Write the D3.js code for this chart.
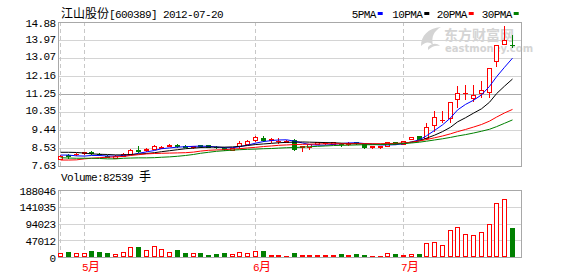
<!DOCTYPE html>
<html><head><meta charset="utf-8">
<script src="https://cdn.jsdelivr.net/npm/d3@7/dist/d3.min.js"></script>
<style>body{margin:0;background:#fff}svg{display:block}</style>
</head><body>
<svg id="c" width="578" height="276"></svg>
<script>
const title = "江山股份[600389] 2012-07-20";
const volumeLabel = "Volume:82539 手";
const maNames = ["5PMA", "10PMA", "20PMA", "30PMA"];
const maColors = ["#0000ff", "#000000", "#ff0000", "#008000"];
const priceTicks = [7.63, 8.53, 9.44, 10.35, 11.25, 12.16, 13.07, 13.97, 14.88];
const volumeTicks = [0, 47012, 94023, 141035, 188046];

const dates = ["2012-04-25","2012-04-26","2012-04-27",
"2012-05-02","2012-05-03","2012-05-04","2012-05-07","2012-05-08","2012-05-09","2012-05-10","2012-05-11","2012-05-14","2012-05-15","2012-05-16","2012-05-17","2012-05-18","2012-05-21","2012-05-22","2012-05-23","2012-05-24","2012-05-25","2012-05-28","2012-05-29","2012-05-30","2012-05-31",
"2012-06-01","2012-06-04","2012-06-05","2012-06-06","2012-06-07","2012-06-08","2012-06-11","2012-06-12","2012-06-13","2012-06-14","2012-06-15","2012-06-18","2012-06-19","2012-06-20","2012-06-21","2012-06-25","2012-06-26","2012-06-27","2012-06-28",
"2012-07-02","2012-07-03","2012-07-04","2012-07-05","2012-07-06","2012-07-09","2012-07-10","2012-07-11","2012-07-12","2012-07-13","2012-07-16","2012-07-17","2012-07-18","2012-07-19","2012-07-20"];

const open = [7.98,8.17,8.21,8.28,8.34,8.25,8.14,8.04,8.13,8.25,
8.44,8.43,8.48,8.56,8.66,8.69,8.65,8.58,8.68,8.67,
8.60,8.54,8.44,8.62,8.75,8.95,9.04,8.93,8.88,8.85,
8.95,8.57,8.60,8.74,8.78,8.76,8.76,8.74,8.84,8.72,
8.58,8.58,8.64,8.83,8.75,8.99,9.14,9.05,9.68,9.93,
10.06,10.99,11.30,11.07,11.29,11.37,12.90,13.76,13.72];
const close = [8.15,8.14,8.23,8.32,8.26,8.22,8.10,8.15,8.25,8.45,
8.37,8.47,8.66,8.59,8.69,8.63,8.61,8.63,8.62,8.61,
8.57,8.49,8.54,8.79,8.90,9.07,8.95,8.97,8.91,8.90,
8.49,8.62,8.74,8.82,8.80,8.83,8.72,8.79,8.78,8.58,
8.62,8.62,8.82,8.75,8.89,9.07,9.00,9.58,10.08,9.97,
10.85,11.31,11.32,11.19,11.44,12.55,13.71,13.97,13.70];
const high = [8.16,8.25,8.27,8.36,8.37,8.28,8.16,8.16,8.27,8.47,
8.66,8.52,8.68,8.64,8.74,8.74,8.68,8.65,8.70,8.69,
8.62,8.58,8.56,8.87,8.93,9.12,9.12,9.05,9.02,8.92,
9.00,8.63,8.75,8.84,8.86,8.85,8.80,8.84,8.86,8.74,
8.63,8.63,8.84,8.85,8.91,9.10,9.16,9.78,10.41,10.41,
10.86,11.66,11.69,11.69,11.91,12.56,13.72,14.68,14.23];
const low = [7.97,8.05,8.18,8.25,8.22,8.19,8.06,8.02,8.12,8.24,
8.32,8.40,8.47,8.52,8.62,8.60,8.58,8.56,8.60,8.59,
8.55,8.46,8.42,8.54,8.73,8.87,8.87,8.85,8.77,8.83,
8.46,8.37,8.50,8.72,8.74,8.74,8.66,8.70,8.76,8.56,
8.55,8.56,8.62,8.73,8.73,8.97,8.98,8.97,9.41,9.86,
9.86,10.59,11.00,10.92,11.09,11.12,12.68,13.75,13.62];
const volume = [12162,13098,12162,12162,15904,13098,10291,9355,14969,29002,
27131,20582,31809,23389,14969,18711,10291,12162,10291,4678,
7484,10291,9355,14969,12162,17775,15904,6549,6549,3742,
10291,6549,6549,6549,4678,4678,7484,4678,7484,4678,
1871,1871,12162,7484,6549,9355,7484,40229,43036,34616,
74844,85135,65489,62682,71102,93555,152495,163722,82539];

const ma5 = [8.18,8.18,8.14,8.13,8.16,8.16,8.13,8.13,8.16,8.18,
8.27,8.34,8.41,8.50,8.54,8.58,8.60,8.62,8.63,8.62,
8.59,8.55,8.55,8.60,8.68,8.78,8.86,8.91,8.94,8.95,
8.88,8.79,8.71,8.68,8.68,8.72,8.76,8.79,8.80,8.76,
8.73,8.69,8.69,8.70,8.75,8.84,8.95,9.15,9.42,9.70,
10.05,10.45,10.73,10.94,11.21,11.64,12.12,12.60,13.06];
const ma10 = [8.32,8.32,8.31,8.28,8.24,8.22,8.21,8.19,8.19,8.21,
8.23,8.26,8.30,8.35,8.40,8.45,8.50,8.53,8.56,8.58,
8.58,8.58,8.59,8.62,8.66,8.71,8.74,8.77,8.80,8.82,
8.83,8.84,8.83,8.82,8.81,8.80,8.78,8.76,8.75,8.74,
8.73,8.73,8.74,8.75,8.78,8.83,8.90,9.03,9.18,9.36,
9.58,9.85,10.06,10.29,10.51,10.84,11.27,11.65,12.01];
const ma20 = [7.93,7.93,7.94,7.99,8.02,8.05,8.07,8.09,8.11,8.16,
8.20,8.24,8.26,8.27,8.28,8.29,8.30,8.33,8.38,8.42,
8.44,8.45,8.48,8.50,8.54,8.57,8.61,8.64,8.67,8.69,
8.71,8.72,8.73,8.74,8.75,8.75,8.75,8.75,8.75,8.75,
8.75,8.75,8.76,8.77,8.79,8.83,8.89,8.96,9.05,9.14,
9.25,9.36,9.47,9.59,9.72,9.89,10.09,10.30,10.48];
const ma30 = [8.05,8.03,8.02,8.02,8.02,8.01,7.99,7.99,8.02,8.03,
8.04,8.04,8.05,8.07,8.09,8.12,8.16,8.21,8.27,8.32,
8.37,8.40,8.43,8.45,8.47,8.48,8.50,8.51,8.53,8.55,
8.56,8.58,8.60,8.62,8.64,8.66,8.67,8.68,8.69,8.70,
8.70,8.71,8.72,8.73,8.76,8.79,8.83,8.88,8.94,9.00,
9.07,9.14,9.21,9.29,9.38,9.48,9.61,9.78,9.95];
const maSeries = [ma5, ma10, ma20, ma30];

const RED = "#ff0000", GREEN = "#008000";
const svg = d3.select("#c");
const L = 58, R = 522, PT = 22, PB = 166, VT = 190, VB = 257;

const x = d3.scaleBand().domain(d3.range(dates.length)).range([56.8, 516.4]).padding(0);
const cx = i => Math.round(x(i) + x.bandwidth() / 2 - 0.5) + 0.5;
const y = d3.scaleLinear().domain([priceTicks[0], priceTicks[priceTicks.length - 1]]).range([PB, PT]);
const yv = d3.scaleLinear().domain([0, volumeTicks[volumeTicks.length - 1]]).range([VB, VT]);

function mixed(g, str, x0, yb, fill) {
  const t = g.append("text").attr("x", x0).attr("y", yb).attr("fill", fill);
  const re = /[\u3000-\u9fff\uff00-\uffef]/;
  let runs = [], cur = "", curC = null;
  for (const ch of str) {
    const c = re.test(ch);
    if (curC === null || c === curC) { cur += ch; curC = c; }
    else { runs.push([cur, curC]); cur = ch; curC = c; }
  }
  if (cur) runs.push([cur, curC]);
  runs.forEach(([s, c]) => {
    const ts = t.append("tspan").text(s);
    if (c) ts.attr("font-family", "'Noto Sans CJK SC'").attr("font-size", 12);
    else ts.attr("font-family", "'Liberation Mono', 'DejaVu Sans Mono', monospace").attr("font-size", 11).style("letter-spacing", "-0.6px");
  });
  return t;
}

// watermark
const wm = svg.append("g").attr("fill", "#d4d4d4");
wm.append("path").attr("d", "M421,46 C421,36 428,28 441,27 C434,31 431,37 433,45 C429,41 425,42 421,46 Z");
wm.append("path").attr("d", "M428,47 C432,43 437,43 440,46 C436,45 432,46 428,50 Z");
wm.append("text").attr("x", 444).attr("y", 40).attr("font-family", "'Noto Sans CJK SC'").attr("font-weight", "bold").attr("font-size", 14).text("东方财富网");
wm.append("text").attr("x", 445).attr("y", 52).attr("font-family", "'DejaVu Sans', sans-serif").attr("font-weight", "bold").attr("font-size", 10).text("eastmoney.com");

// grids
const grid = svg.append("g").attr("shape-rendering", "crispEdges");
priceTicks.forEach((t, k) => {
  const yy = Math.round(y(t)) + 0.5;
  const mid = k === 4;
  grid.append("line").attr("x1", L).attr("x2", R).attr("y1", yy).attr("y2", yy)
    .attr("stroke", mid ? "#a8a8a8" : "#d4d4d4").attr("stroke-width", 1);
});
volumeTicks.forEach(t => {
  const yy = Math.round(yv(t)) + 0.5;
  grid.append("line").attr("x1", L).attr("x2", R).attr("y1", yy).attr("y2", yy)
    .attr("stroke", "#d4d4d4");
});
const monthIdx = dates.map((d, i) => i).filter(i => i === 0 || dates[i].slice(5, 7) !== dates[i - 1].slice(5, 7));
monthIdx.forEach(i => {
  [[PT, PB], [VT, VB]].forEach(([a, b]) => {
    grid.append("line").attr("x1", cx(i)).attr("x2", cx(i)).attr("y1", a).attr("y2", b)
      .attr("stroke", "#c8c8c8").attr("stroke-dasharray", "4,3");
  });
});
[[PT, PB], [VT, VB]].forEach(([a, b]) => {
  grid.append("rect").attr("x", L + 0.5).attr("y", a + 0.5).attr("width", R - L - 1).attr("height", b - a)
    .attr("fill", "none").attr("stroke", "#a8a8a8");
});

// candles and volume
const cg = svg.append("g").attr("shape-rendering", "crispEdges");
dates.forEach((d, i) => {
  const o = open[i], c = close[i], up = c >= o;
  const col = up ? RED : GREEN;
  const xc = cx(i);
  const yt = Math.round(y(Math.max(o, c))), yb = Math.round(y(Math.min(o, c)));
  cg.append("line").attr("x1", xc).attr("x2", xc).attr("y1", Math.round(y(high[i]))).attr("y2", Math.round(y(low[i])) + 1).attr("stroke", col);
  if (yb - yt <= 1) {
    cg.append("rect").attr("x", xc - 2.5).attr("y", yt).attr("width", 5).attr("height", Math.max(1, yb - yt + 1)).attr("fill", col);
  } else if (up) {
    cg.append("rect").attr("x", xc - 2).attr("y", yt + 0.5).attr("width", 4).attr("height", yb - yt).attr("fill", "#fff").attr("stroke", col);
  } else {
    cg.append("rect").attr("x", xc - 2.5).attr("y", yt).attr("width", 5).attr("height", yb - yt + 1).attr("fill", col);
  }
  const vt = Math.round(yv(volume[i]));
  if (up && VB - vt > 2) {
    cg.append("rect").attr("x", xc - 2).attr("y", vt + 0.5).attr("width", 4).attr("height", VB - vt - 1).attr("fill", "#fff").attr("stroke", col);
  } else {
    cg.append("rect").attr("x", xc - 2.5).attr("y", vt).attr("width", 5).attr("height", Math.max(1, VB - vt)).attr("fill", col);
  }
});

// moving averages
svg.append("clipPath").attr("id", "pc").append("rect").attr("x", L).attr("y", PT).attr("width", R - L).attr("height", PB - PT);
const mg = svg.append("g").attr("clip-path", "url(#pc)");
maSeries.forEach((s, k) => {
  mg.append("path").datum(s).attr("fill", "none").attr("stroke", maColors[k]).attr("stroke-width", 1)
    .attr("d", d3.line().x((v, i) => cx(i)).y(v => y(v)));
});

// texts
const tg = svg.append("g");
mixed(tg, title, 61, 18, "#000");
const legX = [351.7, 392.3, 436.7, 481.7];
maNames.forEach((n, k) => {
  mixed(tg, n, legX[k], 18, "#000");
  tg.append("rect").attr("x", legX[k] + n.length * 6 + 2).attr("y", 12).attr("width", 5).attr("height", 3).attr("fill", maColors[k]);
});
priceTicks.forEach(t => {
  const s = t.toFixed(2);
  mixed(tg, s, 55.5 - s.length * 6, Math.max(y(t) + 2.5, 27), "#000");
});
volumeTicks.forEach(t => {
  const s = String(t);
  mixed(tg, s, 55.5 - s.length * 6, yv(t) + 4.5, "#000");
});
mixed(tg, volumeLabel, 61, 181, "#000");
monthIdx.slice(1).forEach(i => {
  mixed(tg, (+dates[i].slice(5, 7)) + "月", cx(i) - 2.5, 271, RED);
});
</script>
</body></html>
